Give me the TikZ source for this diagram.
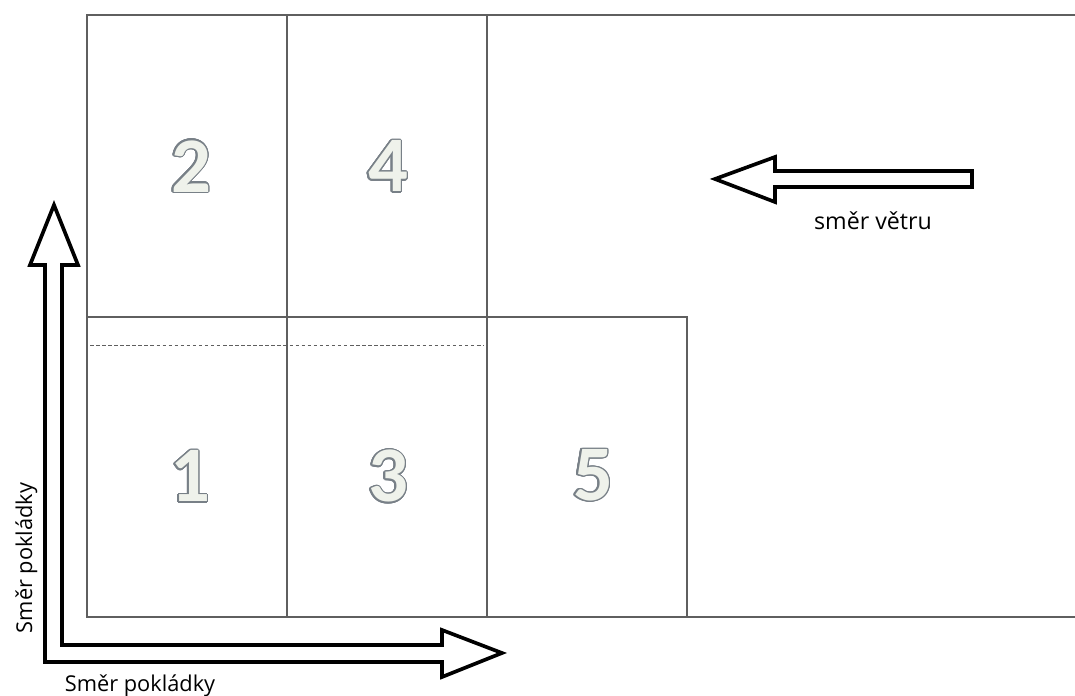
\documentclass[tikz,border=0pt]{standalone}
\usepackage{fontspec}
\setmainfont{Open Sans}
\newfontfamily\digitfont{Carlito}
\usepackage[copies]{contour}
\contourlength{1.0pt}
\contournumber{20}
\definecolor{gridgray}{RGB}{95, 95, 95}
\definecolor{digitfill}{RGB}{239, 242, 235}
\definecolor{digitedge}{RGB}{120, 128, 135}
\newcommand{\fieldnum}[1]{\contour{digitedge}{\textcolor{digitfill}{#1}}}

\begin{document}
\begin{tikzpicture}[
    x=0.025cm, y=-0.025cm,
    grid/.style={draw=gridgray, line width=0.8pt},
    joint/.style={draw=gridgray, line width=0.5pt, dash pattern=on 2.5pt off 1.8pt},
    blockarrow/.style={draw=black, line width=2.6pt, fill=white, line join=miter},
    fieldlabel/.style={font=\digitfont\bfseries\fontsize{56}{56}\selectfont, inner sep=0pt},
    caption/.style={font=\fontsize{16.5}{16.5}\selectfont, inner sep=0pt}
]
\useasboundingbox (0,0) rectangle (1075,695);

% Fields
\draw[grid] (1075,15) -- (87,15) -- (87,617) -- (1075,617);
\draw[grid] (287,15) -- (287,617);
\draw[grid] (487,15) -- (487,617);
\draw[grid] (87,317) -- (687,317) -- (687,617);
\draw[joint] (90,345) -- (484,345);

% Field numbers
\node[fieldlabel] (f2) at (191,167) {\fieldnum{2}};
\node[fieldlabel] (f4) at (388,167) {\fieldnum{4}};
\node[fieldlabel] (f1) at (190,477) {\fieldnum{1}};
\node[fieldlabel] (f3) at (388,477) {\fieldnum{3}};
\node[fieldlabel] (f5) at (593,476) {\fieldnum{5}};

% Wind direction
\draw[blockarrow] (972,171) -- (775,171) -- (775,157) -- (715,179)
    -- (775,202) -- (775,187) -- (972,187) -- cycle;
\node[caption, anchor=base] (wind) at (873,230) {směr větru};

% Laying direction
\draw[blockarrow] (62,645) -- (62,265) -- (78,265) -- (54,205) -- (30,265)
    -- (45,265) -- (45,662) -- (442,662) -- (442,677) -- (502,653)
    -- (442,630) -- (442,645) -- cycle;
\node[caption, anchor=base, font=\fontsize{15.5}{15.5}\selectfont] (layx) at (140,691) {Směr pokládky};
\node[caption, anchor=base, rotate=90, font=\fontsize{15.5}{15.5}\selectfont] (layy) at (32,558) {Směr pokládky};

\end{tikzpicture}
\end{document}
